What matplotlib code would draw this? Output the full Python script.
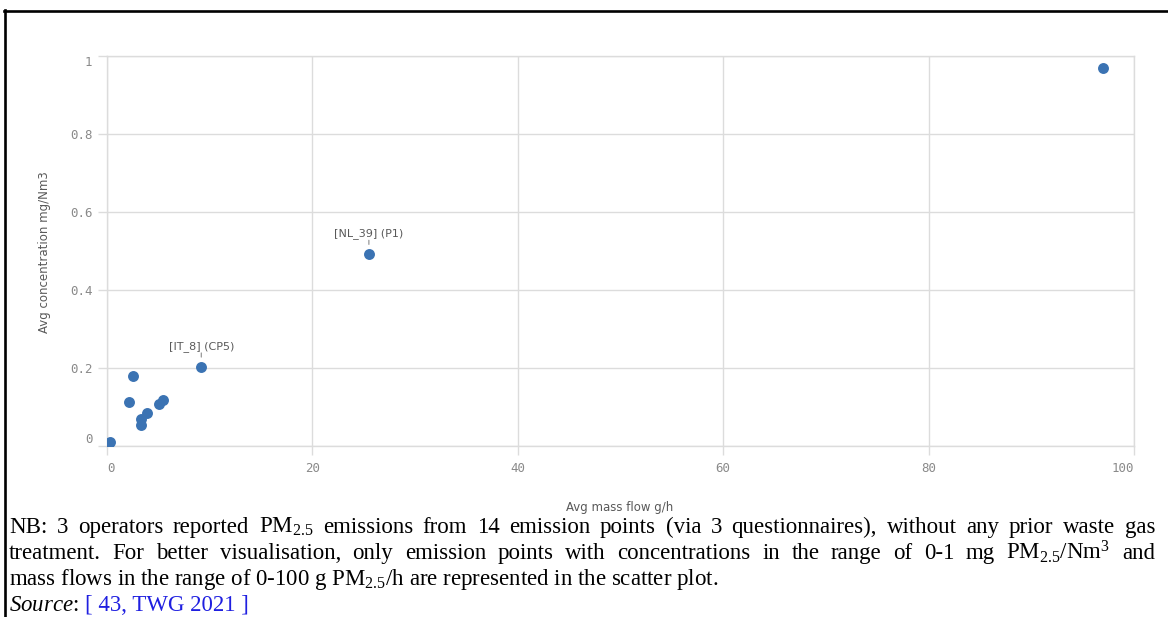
import matplotlib
matplotlib.use('Agg')
import matplotlib.pyplot as plt
from matplotlib.lines import Line2D

# ---------------- data ----------------
mass_flow = [0.30, 0.05, 2.17, 2.50, 3.28, 3.28, 3.92, 5.03, 5.42, 9.18, 25.5, 97.0]
concentration = [0.010, 0.003, 0.114, 0.179, 0.069, 0.053, 0.085, 0.108, 0.118, 0.203, 0.492, 0.969]

label_names = ['[IT_8] (CP5)', '[NL_39] (P1)']
label_x = [9.18, 25.5]
label_y = [0.203, 0.492]

x_ticks = [0, 20, 40, 60, 80, 100]
x_tick_labels = ['0', '20', '40', '60', '80', '100']
y_ticks = [0, 0.2, 0.4, 0.6, 0.8, 1.0]
y_tick_labels = ['0', '0.2', '0.4', '0.6', '0.8', '1']

x_title = 'Avg mass flow g/h'
y_title = 'Avg concentration mg/Nm3'

note_lines = [
    "NB: 3 operators reported PM$_{\\mathrm{2.5}}$ emissions from 14 emission points (via 3 questionnaires), without any prior waste gas",
    "treatment. For better visualisation, only emission points with concentrations in the range of 0-1 mg PM$_{\\mathrm{2.5}}$/Nm$^{\\mathrm{3}}$ and",
    "mass flows in the range of 0-100 g PM$_{\\mathrm{2.5}}$/h are represented in the scatter plot.",
]
source_label = '$\\mathit{Source}$:'
source_ref = '[ 43, TWG 2021 ]'

# ---------------- figure ----------------
plt.rcParams['mathtext.fontset'] = 'custom'
plt.rcParams['mathtext.rm'] = 'Liberation Serif'
plt.rcParams['mathtext.it'] = 'Liberation Serif:italic'
plt.rcParams['mathtext.bf'] = 'Liberation Serif:bold'

W, H = 1168, 617
fig = plt.figure(figsize=(W / 100, H / 100), dpi=100)


def fx(px):
    return px / W


def fy(py):
    return 1 - py / H


ax = fig.add_axes([fx(107), fy(446), (1134 - 107) / W, (446 - 56) / H])
ax.scatter(mass_flow, concentration, s=62, color='#3b73b3', linewidths=0, zorder=3, clip_on=True)
ax.set_xlim(0, 100)
ax.set_ylim(0, 1)
ax.set_xticks(x_ticks)
ax.set_xticklabels(x_tick_labels)
ax.set_yticks(y_ticks)
ax.set_yticklabels(y_tick_labels)
ax.grid(True, color='#dcdcdc', lw=1.0)
ax.set_axisbelow(True)
for sp in ax.spines.values():
    sp.set_color('#dcdcdc')
    sp.set_linewidth(1.0)
ax.tick_params(axis='both', colors='#dcdcdc', labelcolor='#8a8a8a', length=6.5, width=1.0, labelsize=9)
ax.tick_params(axis='x', pad=5)
ax.tick_params(axis='y', pad=4)
for lbl in ax.get_xticklabels() + ax.get_yticklabels():
    lbl.set_family('DejaVu Sans Mono')
xl = ax.get_xticklabels()
xl[0].set_ha('left')
xl[-1].set_ha('right')
yl = ax.get_yticklabels()
yl[0].set_va('bottom')
yl[-1].set_va('top')

for name, x, y in zip(label_names, label_x, label_y):
    ax.annotate(name, (x, y), xytext=(0, 14.8), textcoords='offset points',
                ha='center', va='center', fontsize=8, color='#595959')
    ax.annotate('', (x, y), xytext=(0, 10.0), textcoords='offset points',
                arrowprops=dict(arrowstyle='-', color='#8a8a8a', lw=0.8, shrinkA=0, shrinkB=7.0))

fig.text(fx(620), fy(508), x_title, ha='center', va='center', fontsize=8.5, color='#595959')
fig.text(fx(45), fy(252), y_title, ha='center', va='center', rotation=90, fontsize=8.5, color='#595959')

# border lines (document frame)
fig.add_artist(Line2D([fx(4), fx(1168)], [fy(10.7), fy(10.7)], color='black', lw=1.9))
fig.add_artist(Line2D([fx(5), fx(5)], [fy(10), fy(617)], color='black', lw=1.9))

# ---------------- footnote ----------------
renderer = fig.canvas.get_renderer()
FS = 16.5
serif = 'Liberation Serif'
left_px, right_px = 9, 1155
baselines = [533, 559, 585, 611]


def width_px(s, **kw):
    t = fig.text(0, 0, s, fontsize=FS, family=serif, **kw)
    w = t.get_window_extent(renderer).width
    t.remove()
    return w


for i, line in enumerate(note_lines):
    yb = fy(baselines[i])
    if i < len(note_lines) - 1:
        words = line.split(' ')
        widths = [width_px(w) for w in words]
        gap = (right_px - left_px - sum(widths)) / (len(words) - 1)
        xpos = left_px
        for w, wd in zip(words, widths):
            fig.text(fx(xpos), yb, w, fontsize=FS, family=serif, va='baseline', ha='left')
            xpos += wd + gap
    else:
        fig.text(fx(left_px), yb, line, fontsize=FS, family=serif, va='baseline', ha='left')

yb = fy(baselines[3])
xpos = left_px
fig.text(fx(xpos), yb, source_label, fontsize=FS, family=serif, va='baseline')
xpos += width_px(source_label) + width_px('a a') - width_px('aa')
fig.text(fx(xpos), yb, source_ref, fontsize=FS, family=serif, va='baseline', color='#1f1fe0')

fig.savefig('out.png', dpi=100)
